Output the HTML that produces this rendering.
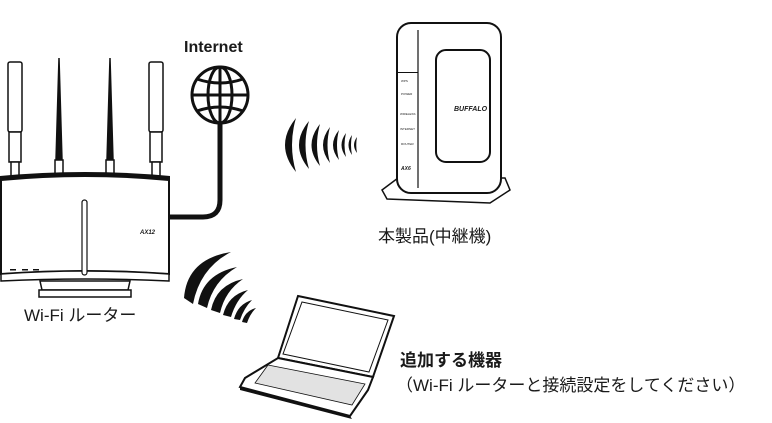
<!DOCTYPE html>
<html><head><meta charset="utf-8"><style>
html,body{margin:0;padding:0;background:#fff;}
svg{display:block}
text{font-family:"Liberation Sans","Noto Sans CJK JP",sans-serif;fill:#1a1a1a}
</style></head><body>
<svg width="772" height="423" viewBox="0 0 772 423" xmlns="http://www.w3.org/2000/svg">
<!-- Router antennas -->
<g stroke="#111" stroke-width="1.5" fill="#fff">
<rect x="8" y="62" width="14" height="70" rx="2"/>
<rect x="9" y="132" width="12" height="30"/>
<rect x="11" y="162" width="8" height="14"/>
<rect x="149" y="62" width="14" height="70" rx="2"/>
<rect x="150" y="132" width="12" height="30"/>
<rect x="152" y="162" width="8" height="14"/>
<path d="M56 160 L59 58 L62 160 Z" fill="#111"/>
<rect x="55" y="160" width="8" height="16"/>
<path d="M107 160 L110 58 L113 160 Z" fill="#111"/>
<rect x="106" y="160" width="8" height="16"/>
</g>
<path d="M0 176 Q85 168 170 176 L170 182 Q85 176 0 182 Z" fill="#111"/>
<path d="M1 180 Q85 172 169 180 L169 274 Q85 268 1 274 Z" fill="#fff" stroke="#111" stroke-width="2"/>
<path d="M1 274 Q85 268 169 274 L169 281 Q85 277 1 281 Z" fill="#fff" stroke="#111" stroke-width="1.5"/>
<rect x="82" y="200" width="5" height="75" rx="2.5" fill="#fff" stroke="#111" stroke-width="1.2"/>
<path d="M40 281 L130 281 L128 290 L42 290 Z" fill="#fff" stroke="#111" stroke-width="1.5"/>
<rect x="39" y="290" width="92" height="7" fill="#fff" stroke="#111" stroke-width="1.5"/>
<text x="140" y="234" font-size="6" font-weight="bold" font-style="italic">AX12</text>
<rect x="10" y="269" width="6" height="1.5" fill="#111"/><rect x="22" y="269" width="6" height="1.5" fill="#111"/><rect x="33" y="269" width="6" height="1.5" fill="#111"/>
<text x="24" y="321" font-size="17">Wi-Fi ルーター</text>
<path d="M220 124 L220 200 Q220 217 203 217 L170 217" fill="none" stroke="#111" stroke-width="5"/>
<g fill="none" stroke="#111" stroke-width="3">
<circle cx="220" cy="95" r="28" fill="#fff"/>
<ellipse cx="220" cy="95" rx="12" ry="28"/>
<line x1="220" y1="67" x2="220" y2="123"/>
<line x1="192" y1="95" x2="248" y2="95"/>
<path d="M197 79 Q220 87 243 79"/>
<path d="M197 111 Q220 103 243 111"/>
</g>
<text x="184" y="52" font-size="16" font-weight="bold">Internet</text>
<g fill="#111">
<path d="M296 118 Q274 145 296 172 Q288 145 296 118 Z"/>
<path d="M309 121 Q289 145 309 169 Q302 145 309 121 Z"/>
<path d="M320 124 Q303 145 320 166 Q314 145 320 124 Z"/>
<path d="M330 127 Q316 145 330 163 Q325 145 330 127 Z"/>
<path d="M339 130 Q327 145 339 160 Q335 145 339 130 Z"/>
<path d="M346 133 Q337 145 346 157 Q343 145 346 133 Z"/>
<path d="M352 135 Q345 145 352 155 Q350 145 352 135 Z"/>
<path d="M357 137 Q351 145 357 153 Q355.5 145 357 137 Z"/>
</g>
<g fill="#111">
<path d="M184 298 Q187 259 231 252 Q200 268 193 304 Z"/>
<path d="M198 304 Q203 274 237 267 Q213 281 207 308 Z"/>
<path d="M211 310 Q216 285 243 279 Q225 291 220 313 Z"/>
<path d="M223 315 Q228 295 248 290 Q236 300 231 317 Z"/>
<path d="M234 319 Q238 304 252 300 Q244 308 240 320 Z"/>
<path d="M242 322 Q245 311 256 308 Q250 314 247 323 Z"/>
</g>
<path d="M382 190 L398 178 L505 178 L510 190 L490 203 L387 199 Z" fill="#fff" stroke="#111" stroke-width="1.5"/>
<rect x="397" y="23" width="104" height="170" rx="14" fill="#fff" stroke="#111" stroke-width="2"/>
<line x1="418" y1="30" x2="418" y2="188" stroke="#111" stroke-width="1.2"/>
<rect x="397" y="72" width="21" height="1" fill="#111"/>
<rect x="436" y="50" width="54" height="112" rx="10" fill="#fff" stroke="#111" stroke-width="2"/>
<text x="454" y="111" font-size="7" font-weight="bold" font-style="italic">BUFFALO</text>
<g font-size="3">
<text x="401" y="82">WPS</text><text x="401" y="95">POWER</text><text x="400" y="115">WIRELESS</text><text x="400" y="130">INTERNET</text><text x="401" y="145">ROUTER</text>
</g>
<text x="401" y="170" font-size="5" font-weight="bold" font-style="italic">AX6</text>
<text x="378" y="242" font-size="17">本製品(中継機)</text>
<path d="M298 296 L394 316 L373 377 L278 358 Z" fill="#fff" stroke="#111" stroke-width="2"/>
<path d="M302 302 L388 320 L369 372 L283 354 Z" fill="none" stroke="#111" stroke-width="1"/>
<path d="M278 358 L373 377 L368 390 L350 416 L240 387 L245 378 Z" fill="#fff" stroke="#111" stroke-width="2"/>
<path d="M268 365 L365 384 L352 405 L255 383 Z" fill="#e2e2e2" stroke="#111" stroke-width="0.8"/>
<path d="M240 387 L350 416 L352 419 L240 390 Z" fill="#111"/>
<text x="400" y="366" font-size="17" font-weight="bold">追加する機器</text>
<text x="396" y="391" font-size="17">（Wi-Fi ルーターと接続設定をしてください）</text>
</svg>
</body></html>
